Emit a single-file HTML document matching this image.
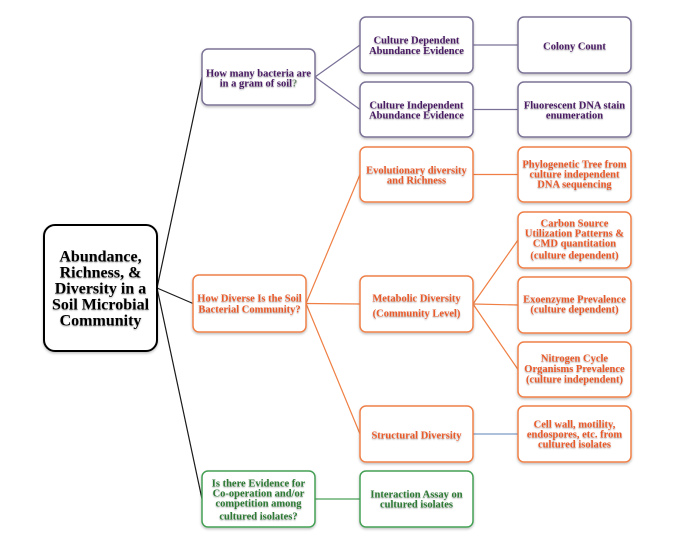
<!DOCTYPE html>
<html><head><meta charset="utf-8"><style>
html,body{margin:0;padding:0;background:#fff;}
svg{display:block;}
text{font-family:"Liberation Serif",serif;font-weight:bold;text-anchor:middle;}
</style></head><body>
<svg width="700" height="540" viewBox="0 0 700 540" xmlns="http://www.w3.org/2000/svg">
<defs>
<filter id="bs" x="-10%" y="-10%" width="120%" height="130%"><feDropShadow dx="0" dy="1.5" stdDeviation="1.3" flood-color="#000" flood-opacity="0.25"/></filter>
<filter id="ts" x="-5%" y="-20%" width="110%" height="160%"><feDropShadow dx="0" dy="1" stdDeviation="0.8" flood-color="#000" flood-opacity="0.35"/></filter>
</defs>
<rect width="700" height="540" fill="#fff"/>
<!-- connectors -->
<g fill="none" stroke-width="1.2">
<g stroke="#1a1a1a">
<line x1="157" y1="288" x2="202" y2="77"/>
<line x1="157" y1="288" x2="193" y2="303.5"/>
<line x1="157" y1="288" x2="202" y2="499"/>
</g>
<g stroke="#7a7098">
<line x1="315" y1="77" x2="360" y2="45"/>
<line x1="315" y1="77" x2="360" y2="109.5"/>
<line x1="473" y1="45" x2="518" y2="45"/>
<line x1="473" y1="109.5" x2="518" y2="109.5"/>
</g>
<g stroke="#ef7f44">
<line x1="306" y1="303.5" x2="360" y2="174.5"/>
<line x1="306" y1="303.5" x2="360" y2="304"/>
<line x1="306" y1="303.5" x2="360" y2="434"/>
<line x1="473" y1="174.5" x2="518" y2="174.5"/>
<line x1="473" y1="304" x2="518" y2="240"/>
<line x1="473" y1="304" x2="518" y2="305"/>
<line x1="473" y1="304" x2="518" y2="369.5"/>
</g>
<line x1="473" y1="434" x2="518" y2="434" stroke="#7d9cc4"/>
<line x1="315" y1="499" x2="360" y2="499" stroke="#4aa058"/>
</g>
<!-- boxes -->
<g fill="#fff" filter="url(#bs)">
<rect x="44" y="225" width="113" height="126" rx="11" stroke="#000" stroke-width="2"/>
<g stroke="#7c7396" stroke-width="1.5">
<rect x="202" y="49" width="113" height="56" rx="6"/>
<rect x="360" y="17" width="113" height="56" rx="6"/>
<rect x="360" y="82" width="113" height="55" rx="6"/>
<rect x="518" y="17" width="113" height="56" rx="6"/>
<rect x="518" y="82" width="113" height="55" rx="6"/>
</g>
<g stroke="#ef8048" stroke-width="1.5">
<rect x="193" y="275" width="113" height="57" rx="6"/>
<rect x="360" y="147" width="113" height="55" rx="6"/>
<rect x="360" y="276" width="113" height="56" rx="6"/>
<rect x="360" y="406" width="113" height="56" rx="6"/>
<rect x="518" y="147" width="113" height="55" rx="6"/>
<rect x="518" y="212" width="113" height="56" rx="6"/>
<rect x="518" y="277" width="113" height="56" rx="6"/>
<rect x="518" y="342" width="113" height="55" rx="6"/>
<rect x="518" y="406" width="113" height="56" rx="6"/>
</g>
<g stroke="#45a055" stroke-width="1.5">
<rect x="202" y="471" width="113" height="56" rx="6"/>
<rect x="360" y="471" width="113" height="56" rx="6"/>
</g>
</g>
<!-- texts -->
<g filter="url(#ts)">
<g font-size="16" fill="#000">
<text x="100.5" y="261.5">Abundance,</text>
<text x="100.5" y="277.5">Richness, &amp;</text>
<text x="100.5" y="293.5">Diversity in a</text>
<text x="100.5" y="309.5">Soil Microbial</text>
<text x="100.5" y="325.5">Community</text>
</g>
<g font-size="10.5" fill="#4a1c64">
<text x="258.5" y="76.5">How many bacteria are</text>
<text x="258.5" y="86.5">in a gram of soil<tspan fill="#6f8a70">?</tspan></text>
<text x="416.5" y="43.5">Culture Dependent</text>
<text x="416.5" y="54">Abundance Evidence</text>
<text x="416.5" y="108.5">Culture Independent</text>
<text x="416.5" y="118.5">Abundance Evidence</text>
<text x="574.5" y="49.5">Colony Count</text>
<text x="574.5" y="108.5">Fluorescent DNA stain</text>
<text x="574.5" y="118.5">enumeration</text>
</g>
<g font-size="10.5" fill="#e95a2a">
<text x="249.5" y="301.5">How Diverse Is the Soil</text>
<text x="249.5" y="312.5">Bacterial Community?</text>
<text x="416.5" y="173.5">Evolutionary diversity</text>
<text x="416.5" y="183.5">and Richness</text>
<text x="416.5" y="301.5">Metabolic Diversity</text>
<text x="416.5" y="316.5">(Community Level)</text>
<text x="416.5" y="438.5">Structural Diversity</text>
<text x="574.5" y="167.5">Phylogenetic Tree from</text>
<text x="574.5" y="177.5">culture independent</text>
<text x="574.5" y="187.5">DNA sequencing</text>
<text x="574.5" y="226.5">Carbon Source</text>
<text x="574.5" y="236.5">Utilization Patterns &amp;</text>
<text x="574.5" y="246.5">CMD quantitation</text>
<text x="574.5" y="258.5">(culture dependent)</text>
<text x="574.5" y="302.5">Exoenzyme Prevalence</text>
<text x="574.5" y="312.5">(culture dependent)</text>
<text x="574.5" y="361.5">Nitrogen Cycle</text>
<text x="574.5" y="372">Organisms Prevalence</text>
<text x="574.5" y="382.5">(culture independent)</text>
<text x="574.5" y="427.5">Cell wall, motility,</text>
<text x="574.5" y="437.5">endospores, etc. from</text>
<text x="574.5" y="447.5">cultured isolates</text>
</g>
<g font-size="10.5" fill="#2d7a35">
<text x="258.5" y="486.5">Is there Evidence for</text>
<text x="258.5" y="496.5">Co-operation and/or</text>
<text x="258.5" y="506.5">competition among</text>
<text x="258.5" y="519.5">cultured isolates?</text>
<text x="416.5" y="497.5">Interaction Assay on</text>
<text x="416.5" y="507.5">cultured isolates</text>
</g>
</g>
</svg>
</body></html>
